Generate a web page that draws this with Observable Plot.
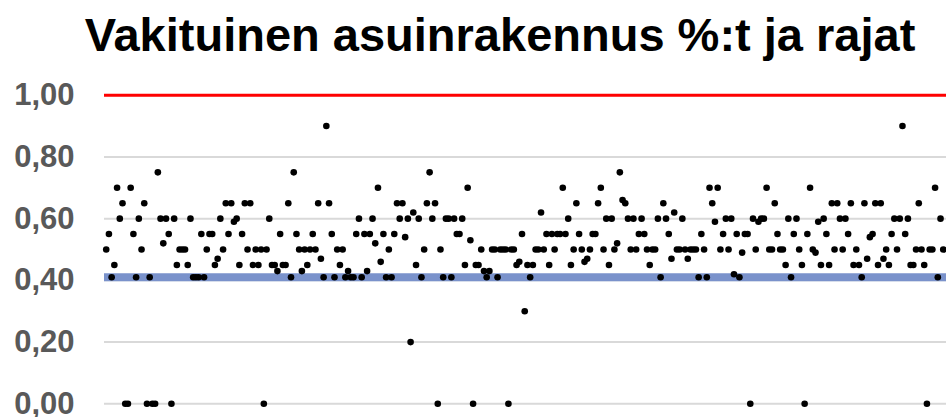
<!DOCTYPE html>
<html>
<head>
<meta charset="utf-8">
<script src="https://cdn.jsdelivr.net/npm/d3@7"></script>
<script src="https://cdn.jsdelivr.net/npm/@observablehq/plot@0.6"></script>
<style>
  html, body { margin: 0; padding: 0; background: #fff; }
  #wrap { position: relative; width: 946px; height: 417px; overflow: hidden; }
  #title { position: absolute; left: 0; top: 11px; width: 1000px; text-align: center;
           font-family: "Liberation Sans", Arial, sans-serif; font-weight: bold; font-size: 47px;
           line-height: 1; color: #000; white-space: nowrap; }
  #chart { position: absolute; left: 0; top: 80px; }
</style>
</head>
<body>
<div id="wrap">
  <div id="title">Vakituinen asuinrakennus %:t ja rajat</div>
  <div id="chart"></div>
</div>
<script>
const title = "Vakituinen asuinrakennus %:t ja rajat";
const yTicks = [0, 0.2, 0.4, 0.6, 0.8, 1.0];
const upperLimit = 1.0;
const lowerLimit = 0.41;
// one value per observation, in order (x = observation number)
const values = [
  0.50,0.55,0.41,0.45,0.70,0.60,0.65,0.00,0.00,0.70,
  0.55,0.41,0.60,0.50,0.65,0.00,0.41,0.00,0.00,0.75,
  0.60,0.52,0.60,0.55,0.00,0.60,0.45,0.50,0.50,0.50,
  0.45,0.60,0.41,0.41,0.41,0.55,0.41,0.50,0.55,0.55,
  0.45,0.47,0.60,0.50,0.65,0.55,0.65,0.59,0.60,0.45,
  0.55,0.65,0.50,0.65,0.45,0.50,0.45,0.50,0.00,0.50,
  0.60,0.45,0.45,0.43,0.55,0.45,0.45,0.65,0.41,0.75,
  0.55,0.50,0.43,0.50,0.45,0.50,0.55,0.50,0.65,0.47,
  0.41,0.90,0.65,0.55,0.41,0.50,0.45,0.50,0.41,0.43,
  0.41,0.41,0.55,0.60,0.41,0.55,0.43,0.55,0.60,0.52,
  0.70,0.46,0.55,0.41,0.50,0.41,0.55,0.65,0.60,0.65,
  0.54,0.60,0.20,0.62,0.45,0.60,0.41,0.50,0.65,0.75,
  0.60,0.65,0.00,0.50,0.41,0.60,0.60,0.41,0.60,0.55,
  0.55,0.60,0.45,0.70,0.53,0.00,0.45,0.45,0.50,0.43,
  0.41,0.43,0.50,0.50,0.41,0.50,0.50,0.50,0.00,0.50,
  0.50,0.45,0.46,0.55,0.30,0.45,0.41,0.45,0.50,0.50,
  0.62,0.50,0.55,0.45,0.55,0.50,0.55,0.55,0.70,0.55,
  0.60,0.45,0.50,0.65,0.55,0.50,0.46,0.47,0.50,0.55,
  0.55,0.65,0.70,0.50,0.60,0.45,0.60,0.50,0.52,0.75,
  0.66,0.65,0.60,0.50,0.60,0.50,0.55,0.60,0.55,0.50,
  0.45,0.50,0.50,0.60,0.41,0.65,0.60,0.55,0.47,0.62,
  0.50,0.50,0.60,0.50,0.47,0.50,0.50,0.50,0.41,0.55,
  0.50,0.41,0.70,0.65,0.59,0.70,0.50,0.55,0.60,0.50,
  0.60,0.42,0.55,0.41,0.49,0.55,0.55,0.00,0.60,0.50,
  0.59,0.60,0.60,0.70,0.50,0.50,0.65,0.55,0.50,0.50,
  0.45,0.60,0.41,0.55,0.60,0.50,0.45,0.00,0.55,0.70,
  0.50,0.49,0.59,0.45,0.60,0.55,0.45,0.65,0.50,0.65,
  0.60,0.50,0.60,0.55,0.65,0.45,0.50,0.45,0.41,0.65,
  0.47,0.54,0.55,0.65,0.45,0.65,0.47,0.50,0.45,0.55,
  0.60,0.50,0.60,0.90,0.55,0.60,0.45,0.45,0.50,0.65,
  0.50,0.45,0.00,0.50,0.50,0.70,0.41,0.60,0.50
];

const data = values.map((v, i) => ({i, v}));
const fmt = d => d.toFixed(2).replace(".", ",");

const chart = Plot.plot({
  width: 946,
  height: 337,
  marginLeft: 104,
  marginRight: 0,
  marginTop: 14.7,
  marginBottom: 13.7,
  x: {domain: [-0.63, 309.2], axis: null},
  y: {domain: [0, 1], axis: null},
  style: {background: "white", overflow: "visible"},
  marks: [
    Plot.ruleY(yTicks, {stroke: "#d9d9d9", strokeWidth: 2}),
    Plot.ruleY([lowerLimit], {stroke: "#7a92cb", strokeWidth: 8}),
    Plot.ruleY([upperLimit], {stroke: "#ff0000", strokeWidth: 3}),
    Plot.axisY({
      ticks: yTicks, tickFormat: fmt, tickSize: 0, tickPadding: 30, label: null,
      fontSize: 31, fontWeight: "bold", fill: "#595959",
      fontFamily: "Liberation Sans, Arial, sans-serif"
    }),
    Plot.dot(data, {x: "i", y: "v", r: 3.3, fill: "#000", stroke: "none"})
  ]
});
document.getElementById("chart").append(chart);
</script>
</body>
</html>
